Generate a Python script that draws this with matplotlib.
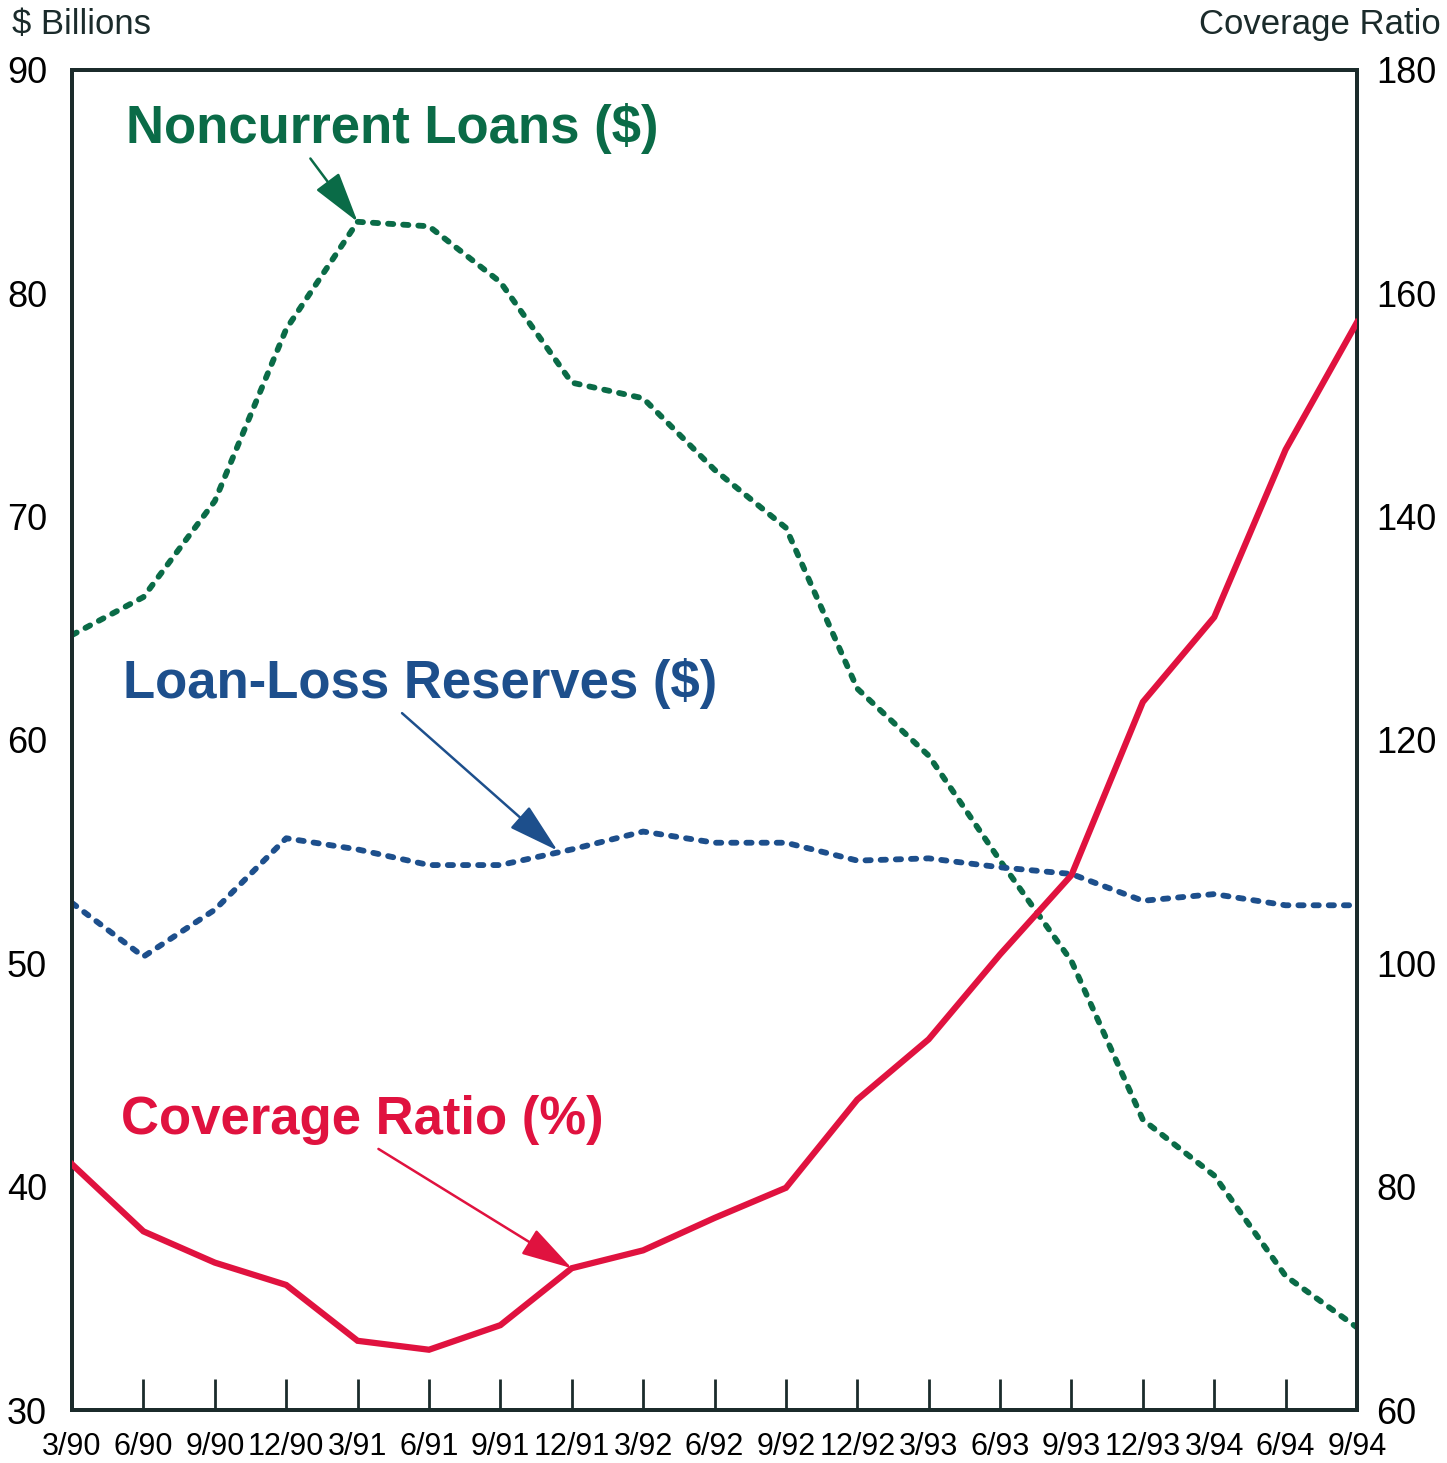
import matplotlib.pyplot as plt
import numpy as np

# quarters 3/90 .. 9/94
quarters = ['3/90', '6/90', '9/90', '12/90', '3/91', '6/91', '9/91', '12/91', '3/92', '6/92',
            '9/92', '12/92', '3/93', '6/93', '9/93', '12/93', '3/94', '6/94', '9/94']

# $ billions (left axis)
noncurrent = [64.7, 66.4, 70.7, 78.4, 83.2, 83.0, 80.5, 76.0, 75.3, 72.1,
              69.5, 62.3, 59.3, 54.6, 50.1, 43.0, 40.5, 36.0, 33.7]
reserves = [52.7, 50.3, 52.4, 55.6, 55.1, 54.4, 54.4, 55.1, 55.9, 55.4,
            55.4, 54.6, 54.7, 54.3, 54.0, 52.8, 53.1, 52.6, 52.6]
# coverage ratio % (right axis)
coverage = [82.0, 76.0, 73.2, 71.2, 66.2, 65.4, 67.6, 72.7, 74.3, 77.2,
            79.9, 87.8, 93.2, 100.8, 107.9, 123.4, 131.0, 146.0, 157.4]

left_ticks = [30, 40, 50, 60, 70, 80, 90]
right_ticks = [60, 80, 100, 120, 140, 160, 180]

green = '#0a6b47'
blue = '#1d4f8c'
red = '#e0123f'
axcol = '#1b2b2b'

plt.rcParams['font.family'] = ['Liberation Sans', 'DejaVu Sans']

fig = plt.figure(figsize=(14.47, 14.63), dpi=100)
ax = fig.add_axes([0.0498, 0.0362, 0.8880, 0.9160])
ax2 = ax.twinx()

x = np.arange(len(quarters))
ax.plot(x, noncurrent, color=green, lw=4.2, linestyle=(0, (0.9, 1.7)), dash_capstyle='round', zorder=3)
ax.plot(x, reserves, color=blue, lw=4.2, linestyle=(0, (0.9, 1.7)), dash_capstyle='round', zorder=3)
ax2.plot(x, coverage, color=red, lw=4.5, solid_joinstyle='miter', zorder=3)

ax.set_xlim(0, len(quarters) - 1)
ax.set_ylim(30, 90)
ax2.set_ylim(60, 180)

ax.set_yticks(left_ticks)
ax.set_yticklabels([str(v) for v in left_ticks], fontsize=26)
ax.tick_params(axis='y', length=0, pad=18)
ax2.set_yticks(right_ticks)
ax2.set_yticklabels([str(v) for v in right_ticks], fontsize=26)
ax2.tick_params(axis='y', length=0, pad=14)

ax.set_xticks(x)
ax.set_xticklabels(quarters, fontsize=22, family=['Liberation Sans Narrow', 'Liberation Sans'])
ax.tick_params(axis='x', direction='in', length=22, width=2, color=axcol, pad=16)
ax2.tick_params(axis='x', length=0)
# no inner tick marks at the axis ends
for t in [ax.xaxis.get_major_ticks()[0], ax.xaxis.get_major_ticks()[-1]]:
    t.tick1line.set_visible(False)

for a in (ax, ax2):
    for s in a.spines.values():
        s.set_color(axcol)
        s.set_linewidth(2.8)

fig.text(0.008, 0.983, '$ Billions', fontsize=25, color='#1b2b2b', va='center', ha='left')
fig.text(0.996, 0.983, 'Coverage Ratio', fontsize=25, color='#1b2b2b', va='center', ha='right')

# labels with arrows
arrow = '-|>,head_length=1.6,head_width=0.45'
ax.annotate('Noncurrent Loans ($)', xy=(4, noncurrent[4]), xytext=(0.75, 87.4),
            fontsize=38, fontweight='bold', color=green, va='center', ha='left',
            arrowprops=dict(arrowstyle=arrow, color=green, lw=1.8, mutation_scale=20,
                            shrinkA=2, shrinkB=0, relpos=(0.34, 0.0)))
ax.annotate('Loan-Loss Reserves ($)', xy=(6.8, 55.05), xytext=(0.72, 62.55),
            fontsize=38, fontweight='bold', color=blue, va='center', ha='left',
            arrowprops=dict(arrowstyle=arrow, color=blue, lw=1.8, mutation_scale=20,
                            shrinkA=2, shrinkB=0, relpos=(0.46, 0.0)))
ax2.annotate('Coverage Ratio (%)', xy=(7, coverage[7]), xytext=(0.68, 86.0),
             fontsize=38, fontweight='bold', color=red, va='center', ha='left',
             arrowprops=dict(arrowstyle=arrow, color=red, lw=1.8, mutation_scale=20,
                             shrinkA=2, shrinkB=0, relpos=(0.52, 0.0)))

fig.savefig('out.png', dpi=100, facecolor='white')
